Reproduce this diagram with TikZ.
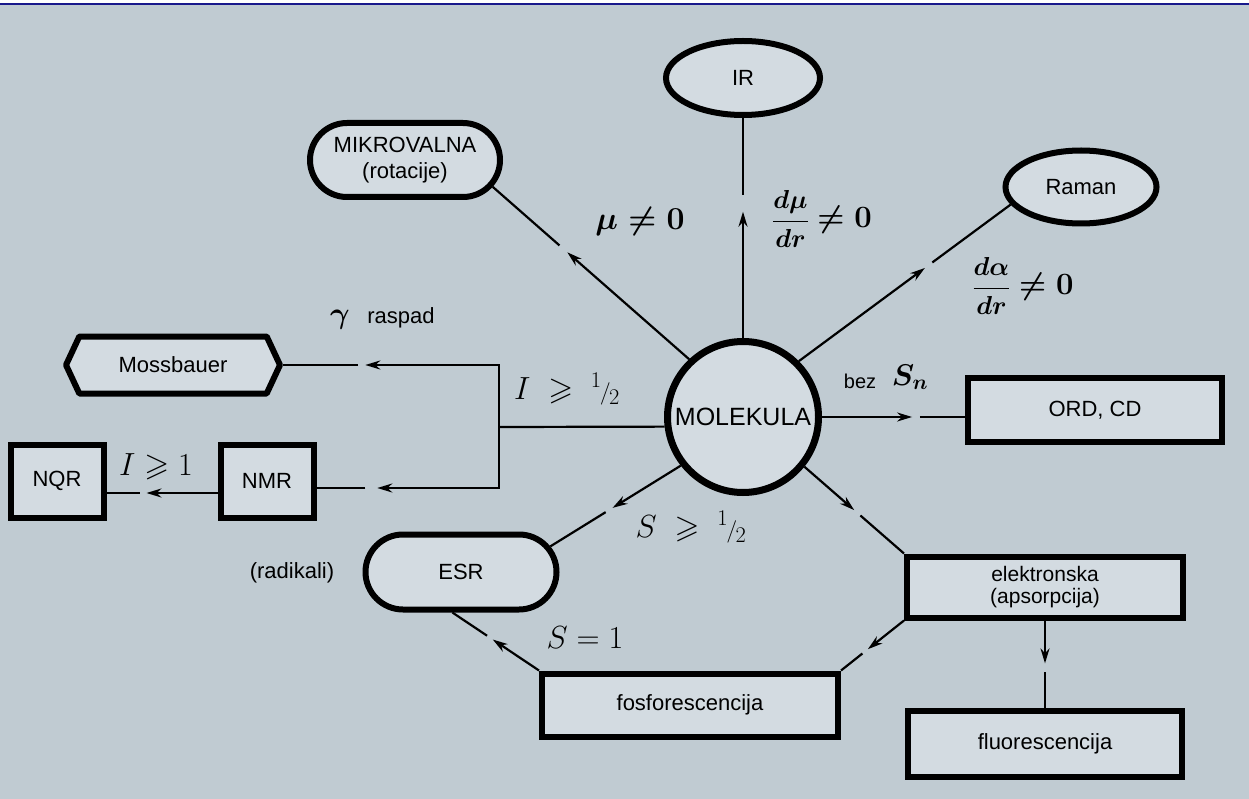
\RequirePackage{fix-cm}
\documentclass[tikz,border=0pt]{standalone}
\usepackage{amsmath,amssymb}
\usepackage[no-math]{fontspec}
\setmainfont{Liberation Sans}
\usetikzlibrary{shapes.geometric,shapes.misc,shapes.symbols,arrows.meta,calc}
\definecolor{bg}{RGB}{192,203,210}
\definecolor{nf}{RGB}{211,219,225}
\definecolor{topblue}{RGB}{25,25,140}
\newcommand\halfsl{{}^{1}\mkern-1mu{\scriptstyle/}\mkern-1mu_{2}}
\tikzset{
  >={Stealth[length=15pt,width=9pt]},
  nodebase/.style={draw, fill=nf, line width=6pt, inner sep=0pt, align=center,
    font=\fontsize{22}{26}\selectfont},
  box/.style={nodebase, rectangle},
  oval/.style={nodebase, ellipse},
  stadium/.style={nodebase, rounded rectangle},
  conn/.style={line width=2.2pt},
  mathlbl/.style={inner sep=0pt, font=\fontsize{32}{38}\selectfont},
  txt/.style={inner sep=0pt, font=\fontsize{22}{26}\selectfont},
}
\newcommand\gapconn[4]{%
  \draw[conn,->] (#1) -- ($(#1)!#3!(#2)$);
  \draw[conn] ($(#1)!#4!(#2)$) -- (#2);}
\begin{document}
\begin{tikzpicture}[x=1pt,y=-1pt]
\useasboundingbox (0,0) rectangle (1249,799);
\fill[bg] (0,0) rectangle (1249,799);
\fill[white] (0,0) rectangle (1249,3);
\fill[topblue] (0,3) rectangle (1249,5.5);

% nodes
\node[oval, minimum width=154, minimum height=74] (ir) at (743,78) {IR};
\node[stadium, minimum width=190, minimum height=74] (mik) at (405,160) {MIKROVALNA\\(rotacije)};
\node[oval, minimum width=151, minimum height=73] (ram) at (1081,187) {Raman};
\node[circle, draw, fill=nf, line width=7pt, inner sep=0pt, minimum size=151,
  font=\fontsize{25}{30}\selectfont] (mol) at (743,417) {MOLEKULA};
\node[box, minimum width=254, minimum height=64] (ord) at (1095,410) {ORD, CD};
\node[nodebase, signal, signal to=west and east, signal pointer angle=130,
  minimum width=214, minimum height=57, line join=round] (mos) at (173,365) {Mossbauer};
\node[box, minimum width=93, minimum height=73] (nmr) at (267,481) {NMR};
\node[box, minimum width=93, minimum height=73] (nqr) at (57,481) {NQR};
\node[stadium, minimum width=191, minimum height=75] (esr) at (461,572) {ESR};
\node[box, minimum width=276, minimum height=61, font=\fontsize{21}{22}\selectfont] (elk) at (1045,587) {elektronska\\(apsorpcija)};
\node[box, minimum width=296, minimum height=63] (fos) at (690,705) {fosforescencija};
\node[box, minimum width=274, minimum height=66] (flu) at (1045,744) {fluorescencija};

% connectors from MOLEKULA
\gapconn{mol.90}{ir.-90}{0.574}{0.65}
\gapconn{mol.133}{mik.-17}{0.62}{0.66}
\gapconn{mol.45}{ram.194}{0.595}{0.63}
\coordinate (ordW) at (ord.west |- mol.east);
\gapconn{mol.east}{ordW}{0.63}{0.685}
\gapconn{mol.218}{esr.16}{0.523}{0.576}
\gapconn{mol.-39}{elk.north west}{0.5}{0.5625}
\gapconn{elk.south west}{fos.north east}{0.574}{0.66}
\gapconn{elk.south}{flu.north}{0.49}{0.59}
\gapconn{fos.north west}{esr.258}{0.534}{0.60}

% left branch
\coordinate (jm) at (499,427);
\coordinate (jt) at (jm |- mos.east);
\coordinate (jb) at (499,488);
\coordinate (nmrE) at (nmr.east |- jb);
\draw[conn] (mol.187) -- (jm);
\draw[conn,<->] ($(jt)!0.62!(mos.east)$) -- (jt) -- (jb) -- ($(jb)!0.667!(nmrE)$);
\draw[conn] ($(jt)!0.653!(mos.east)$) -- (mos.east);
\draw[conn] ($(jb)!0.732!(nmrE)$) -- (nmrE);
\coordinate (nmrW) at ($(nmr.west)+(0,12)$);
\coordinate (nqrE) at (nqr.east |- nmrW);
\gapconn{nmrW}{nqrE}{0.64}{0.70}

% labels
\node[mathlbl] (lmu) at (640,222) {$\boldsymbol{\mu\neq 0}$};
\node[inner sep=0pt] (ldmu) at (822,219) {\fontsize{26}{30}\selectfont$\boldsymbol{\dfrac{d\mu}{dr}}$\fontsize{31}{36}\selectfont$\;\boldsymbol{\neq 0}$};
\node[inner sep=0pt] (ldal) at (1023,286) {\fontsize{26}{30}\selectfont$\boldsymbol{\dfrac{d\alpha}{dr}}$\fontsize{31}{36}\selectfont$\;\boldsymbol{\neq 0}$};
\node[txt, font=\fontsize{20}{24}\selectfont] (lbez) at (860,381) {bez};
\node[mathlbl, font=\fontsize{30}{36}\selectfont] (lsn) at (910,377) {$\boldsymbol{S_n}$};
\node[mathlbl, font=\fontsize{30}{36}\selectfont] (lgam) at (340,320) {$\boldsymbol{\gamma}$};
\node[txt] (lras) at (401,318) {raspad};
\node[mathlbl] (lI) at (567,389) {$I\;\geqslant\;\halfsl$};
\node[mathlbl] (lI1) at (156,467) {$I\geqslant 1$};
\node[mathlbl] (lS) at (691,527) {$S\;\geqslant\;\halfsl$};
\node[mathlbl] (lS1) at (585,638) {$S=1$};
\node[txt] (lrad) at (292,573) {(radikali)};
\end{tikzpicture}
\end{document}
